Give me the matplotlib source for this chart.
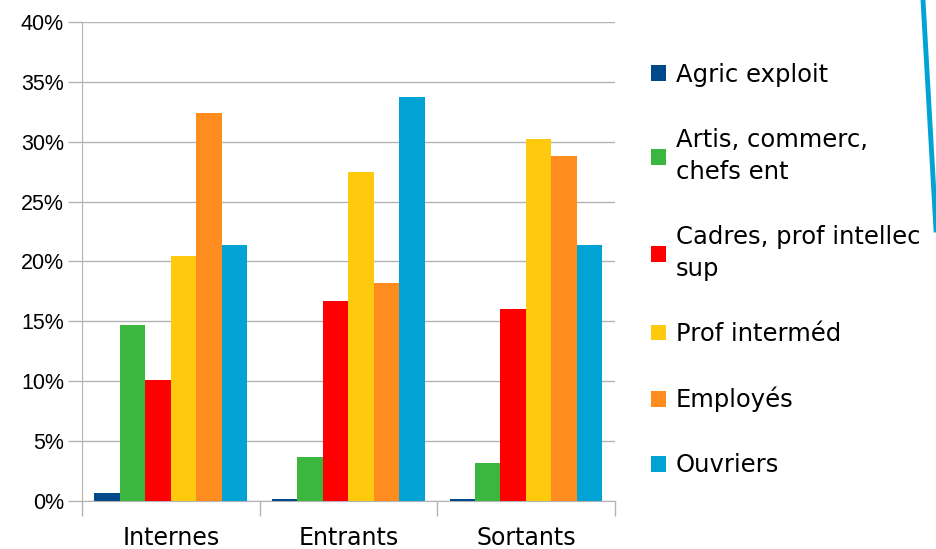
import numpy as np
import matplotlib.pyplot as plt
from matplotlib.lines import Line2D

# categories and series
groups = ['Internes', 'Entrants', 'Sortants']
series = ['Agric exploit', 'Artis, commerc,\nchefs ent', 'Cadres, prof intellec\nsup',
          'Prof interméd', 'Employés', 'Ouvriers']
agric = [0.7, 0.15, 0.15]
artis = [14.7, 3.7, 3.2]
cadres = [10.1, 16.7, 16.0]
prof = [20.5, 27.5, 30.2]
employes = [32.4, 18.2, 28.8]
ouvriers = [21.4, 33.7, 21.4]
values = [agric, artis, cadres, prof, employes, ouvriers]
colors = ['#004a8c', '#3bb63f', '#ff0000', '#ffc90e', '#ff8c1e', '#00a3d4']
yticks = [0, 5, 10, 15, 20, 25, 30, 35, 40]

fig = plt.figure(figsize=(9.37, 5.49), dpi=100)
ax = fig.add_axes([0.0875, 0.0874, 0.5685, 0.8726])

x = np.arange(len(groups))
w = 0.86 / len(series)
for i, (vals, c, lab) in enumerate(zip(values, colors, series)):
    ax.bar(x - 0.43 + w * (i + 0.5), vals, width=w, color=c, label=lab, zorder=3)

grey = '#b3b3b3'
ax.set_xlim(-0.5, 2.5)
ax.set_ylim(0, 40)
ax.set_yticks(yticks)
ax.set_yticklabels([f'{t}%' for t in yticks], fontsize=15.5, family='Liberation Sans')
ax.yaxis.grid(True, color=grey, linewidth=1, zorder=0)
ax.set_xticks(x)
ax.set_xticklabels(groups, fontsize=17)
ax.set_xticks([-0.5, 0.5, 1.5, 2.5], minor=True)
ax.tick_params(axis='x', which='major', length=0, pad=18)
ax.tick_params(axis='x', which='minor', length=11, color=grey, width=1)
ax.tick_params(axis='y', length=10, color=grey, width=1, pad=3)
for s in ['top', 'right']:
    ax.spines[s].set_visible(False)
for s in ['left', 'bottom']:
    ax.spines[s].set_color(grey)

leg = ax.legend(loc='upper left', bbox_to_anchor=(1.05, 0.935), frameon=False,
                fontsize=17.5, handlelength=0.62, handleheight=0.62, handletextpad=0.4,
                labelspacing=1.68, borderaxespad=0)
for t in leg.get_texts():
    t.set_linespacing(1.44)

# blue decorative stroke at the top right
fig.add_artist(Line2D([923 / 937, 936 / 937], [1.0, 1 - 230 / 549],
                      color='#00a3d4', linewidth=3.5, transform=fig.transFigure))

fig.savefig('out.png', dpi=100)
